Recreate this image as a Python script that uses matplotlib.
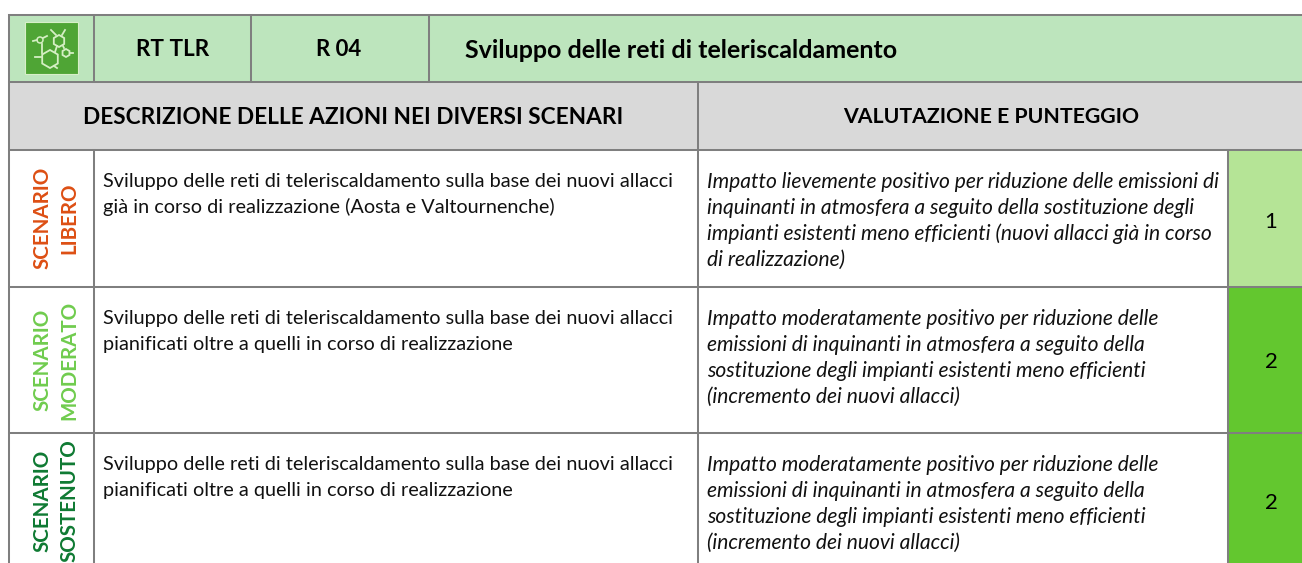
import matplotlib.pyplot as plt
from matplotlib.patches import Circle, Polygon, Rectangle
import numpy as np

plt.rcParams["font.family"] = ["Lato", "DejaVu Sans"]

W, H = 1302, 563
GRID = "#7f7f7f"

header_labels = ["RT TLR", "R 04", "Sviluppo delle reti di teleriscaldamento"]
section_labels = ["DESCRIZIONE DELLE AZIONI NEI DIVERSI SCENARI", "VALUTAZIONE E PUNTEGGIO"]
scenario_labels = ["SCENARIO\nLIBERO", "SCENARIO\nMODERATO", "SCENARIO\nSOSTENUTO"]
scenario_colors = ["#dd4f14", "#70cc4e", "#0f7a33"]
descriptions = [
    ["Sviluppo delle reti di teleriscaldamento sulla base dei nuovi allacci",
     "già in corso di realizzazione (Aosta e Valtournenche)"],
    ["Sviluppo delle reti di teleriscaldamento sulla base dei nuovi allacci",
     "pianificati oltre a quelli in corso di realizzazione"],
    ["Sviluppo delle reti di teleriscaldamento sulla base dei nuovi allacci",
     "pianificati oltre a quelli in corso di realizzazione"],
]
evaluations = [
    ["Impatto lievemente positivo per riduzione delle emissioni di",
     "inquinanti in atmosfera a seguito della sostituzione degli",
     "impianti esistenti meno efficienti (nuovi allacci già in corso",
     "di realizzazione)"],
    ["Impatto moderatamente positivo per riduzione delle",
     "emissioni di inquinanti in atmosfera a seguito della",
     "sostituzione degli impianti esistenti meno efficienti",
     "(incremento dei nuovi allacci)"],
    ["Impatto moderatamente positivo per riduzione delle",
     "emissioni di inquinanti in atmosfera a seguito della",
     "sostituzione degli impianti esistenti meno efficienti",
     "(incremento dei nuovi allacci)"],
]
scores = [1, 2, 2]
score_colors = ["#b5e496", "#63c72f", "#63c72f"]

# table geometry in pixels
col_x = [9, 94, 251, 429, 698, 1228, W]
row_y = [15, 82, 150, 287, 433, H + 5]
score_mid = [222, 362, 503]
scenario_mid = [218, 360, 501]

fig = plt.figure(figsize=(W / 100, H / 100), dpi=100)
ax = fig.add_axes([0, 0, 1, 1])
ax.set_xlim(0, W)
ax.set_ylim(H, 0)
ax.axis("off")


def fill(x0, y0, x1, y1, color):
    ax.add_patch(Rectangle((x0, y0), x1 - x0, y1 - y0, fc=color, ec="none", zorder=1))


def vline(x, y0, y1):
    ax.plot([x, x], [y0, y1], color=GRID, lw=1.45, zorder=3, solid_capstyle="projecting")


def hline(y, x0, x1):
    ax.plot([x0, x1], [y, y], color=GRID, lw=1.45, zorder=3, solid_capstyle="projecting")


fill(col_x[0], row_y[0], W, row_y[1], "#bde5bd")
fill(col_x[0], row_y[1], W, row_y[2], "#d9d9d9")
for i, score in enumerate(scores):
    fill(col_x[5], row_y[i + 2], W, row_y[i + 3], score_colors[i])
    ax.text(1271, score_mid[i], str(score), fontsize=16, ha="center", va="center", color="black", zorder=4)

for y in row_y[:5]:
    hline(y, col_x[0], W)
vline(col_x[0], row_y[0], H + 5)
for x in col_x[1:4]:
    vline(x, row_y[0], row_y[1])
vline(col_x[1], row_y[2], H + 5)
vline(col_x[4], row_y[1], H + 5)
vline(col_x[5], row_y[2], H + 5)

# icon
ax.add_patch(Rectangle((24.5, 22), 53, 52, fc="#4fa535", ec="#d7efc8", lw=0.8, zorder=4))
ICON = "#d5efc4"


def hexagon(cx, cy, r):
    ang = np.radians(np.arange(30, 390, 60))
    ax.add_patch(Polygon(np.c_[cx + r * np.cos(ang), cy + r * np.sin(ang)], fc="none", ec=ICON, lw=1.3, zorder=5))


hexagon(50, 59, 9)
hexagon(59, 41, 6)
hexagon(66, 53, 4)
ax.add_patch(Circle((40, 40), 3, fc="none", ec=ICON, lw=1.1, zorder=5))
icon_links = [
    ((35, 57), (41, 57)), ((54, 66), (57, 68)), ((55, 52), (57, 46)),
    ((42, 53), (42, 44)), ((43, 38), (47, 36)), ((33, 41), (37, 40)),
    ((56, 35), (51, 30)), ((62, 35), (65, 30)), ((70, 53), (73, 53)),
    ((64, 48), (63, 46)),
]
for (xa, ya), (xb, yb) in icon_links:
    ax.plot([xa, xb], [ya, yb], color=ICON, lw=1.3, zorder=5)

# header rows
ax.text(172.5, 50, header_labels[0], fontsize=16.2, fontweight="bold", ha="center", va="center", zorder=4)
ax.text(338.5, 50, header_labels[1], fontsize=16, fontweight="bold", ha="center", va="center", zorder=4)
ax.text(465, 50, header_labels[2], fontsize=18, fontweight="bold", ha="left", va="center", zorder=4)
ax.text(353, 117, section_labels[0], fontsize=16.3, fontweight="bold", ha="center", va="center", zorder=4)
ax.text(991, 117, section_labels[1], fontsize=15.3, fontweight="bold", ha="center", va="center", zorder=4)

# body rows
for i in range(3):
    top = row_y[i + 2]
    ax.text(56, scenario_mid[i], scenario_labels[i], rotation=90, color=scenario_colors[i], fontsize=14.8,
            fontweight="bold", ha="center", va="center", ma="center", linespacing=1.45, zorder=4)
    for j, line in enumerate(descriptions[i]):
        ax.text(103, top + 37 + j * 26, line, fontsize=14.3, ha="left", va="baseline", color="#111111", zorder=4)
    for j, line in enumerate(evaluations[i]):
        ax.text(707, top + 38 + j * 26, line, fontsize=15.1, style="italic", ha="left", va="baseline",
                color="#111111", zorder=4)

fig.savefig("out.png", dpi=100)
plt.close(fig)
